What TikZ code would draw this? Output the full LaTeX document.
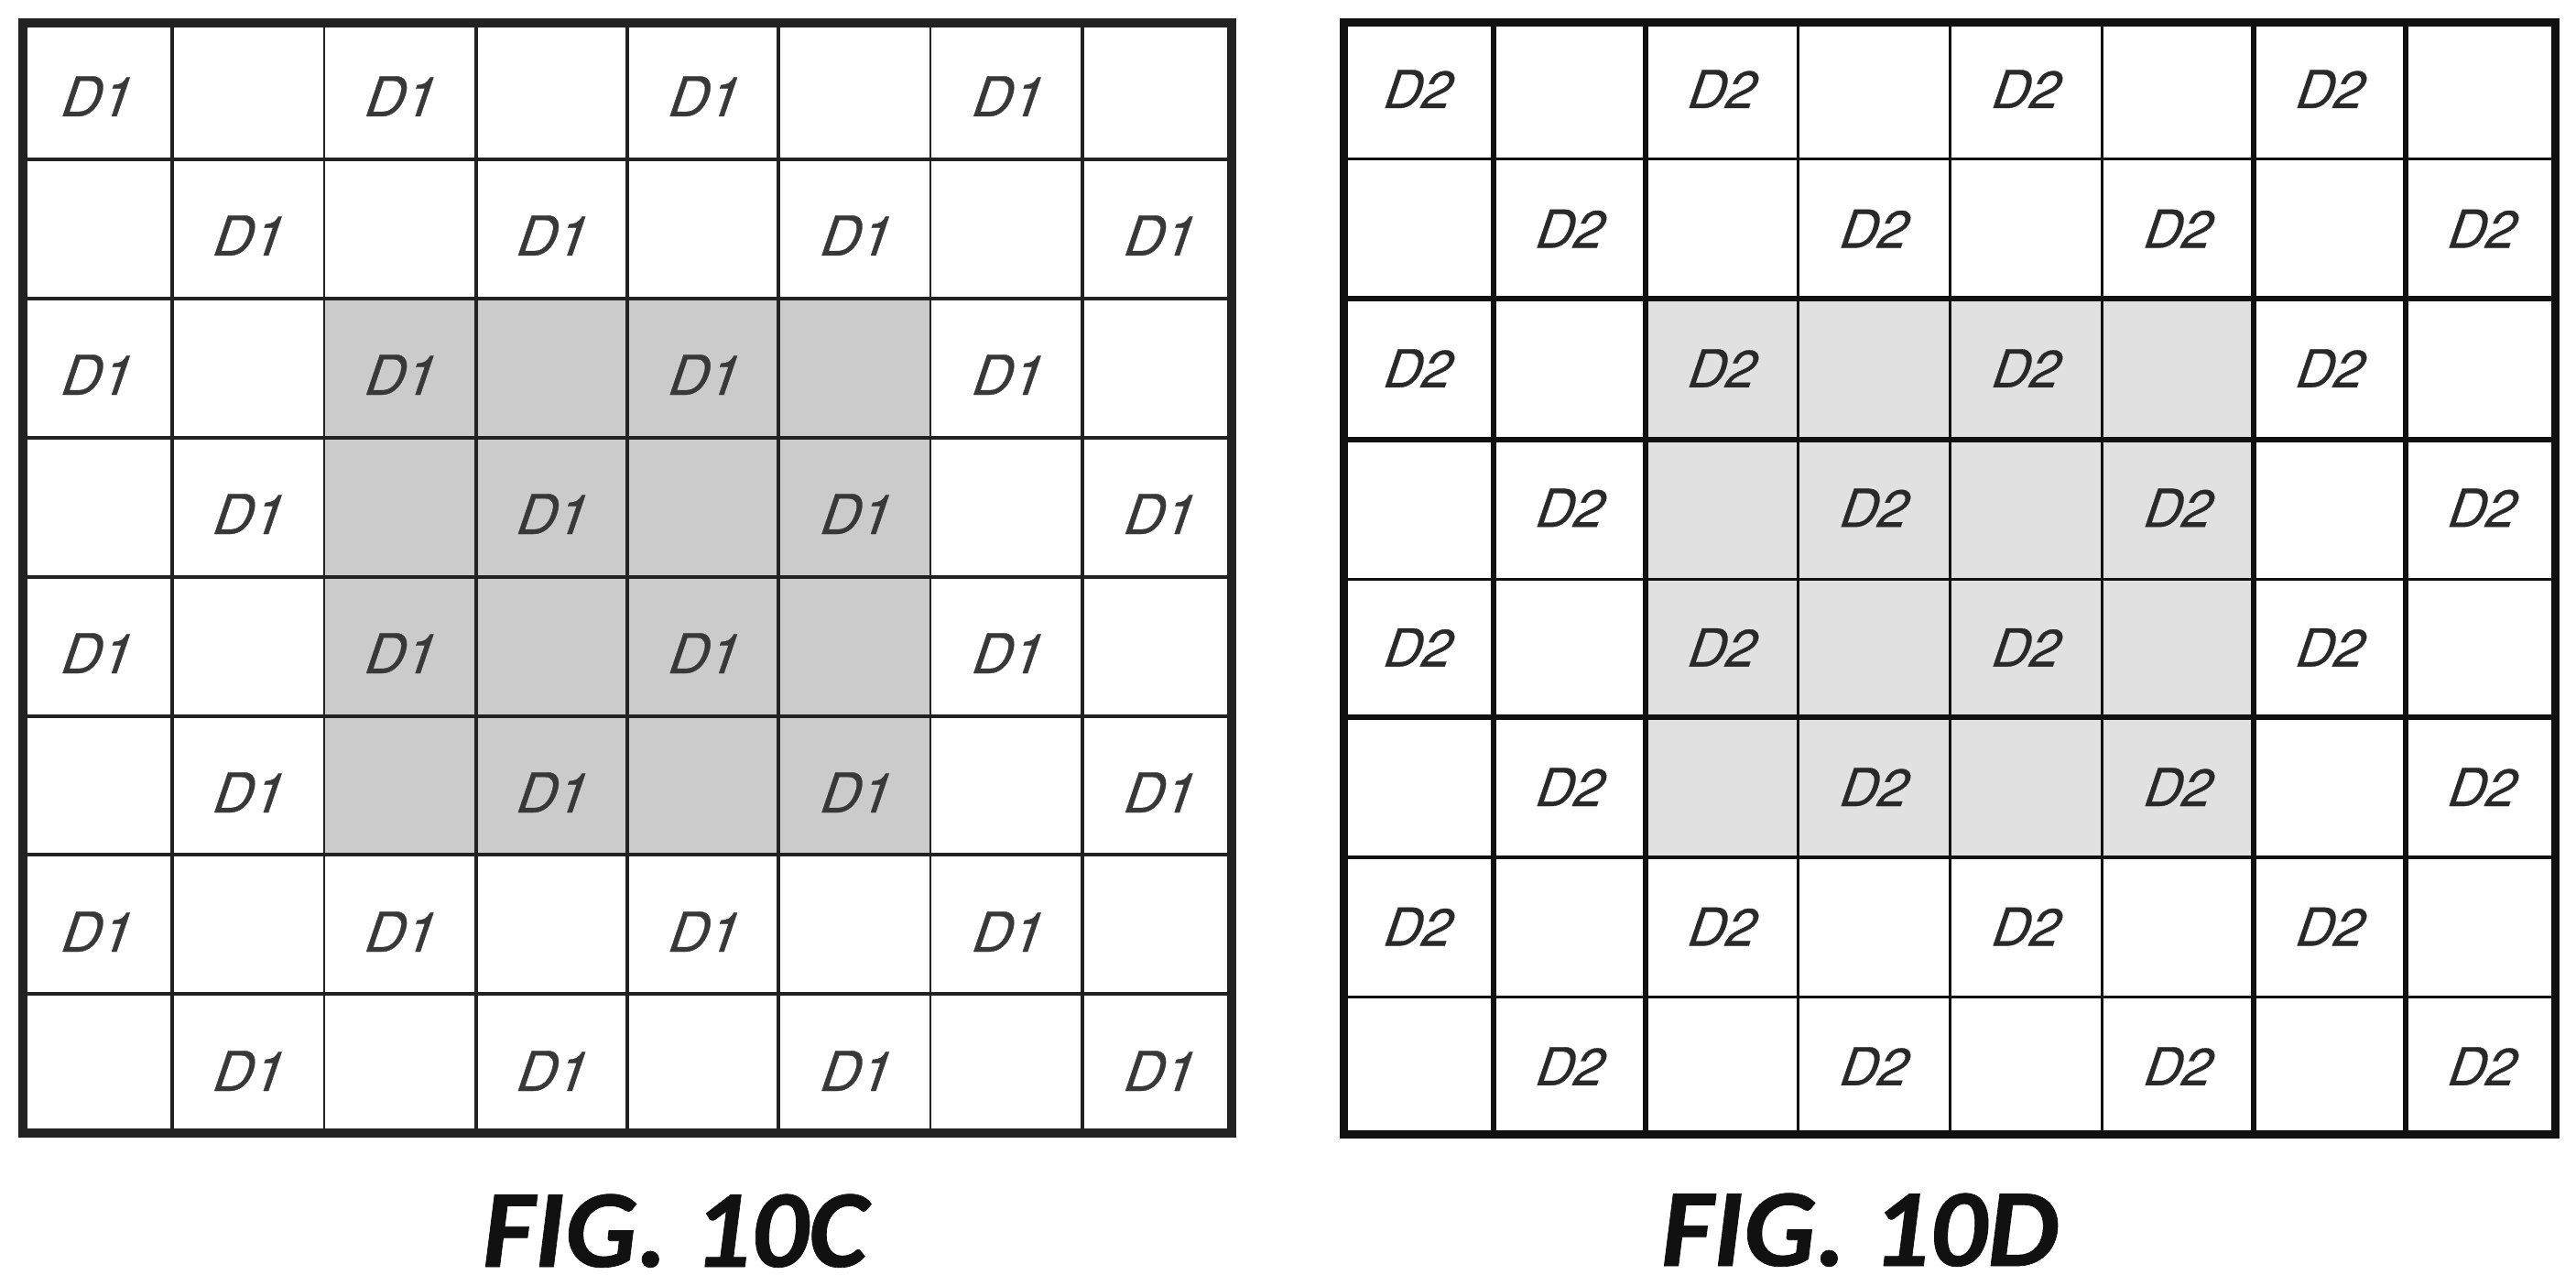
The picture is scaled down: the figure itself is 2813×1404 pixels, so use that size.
\documentclass[tikz,border=0pt]{standalone}
\usepackage{fontspec}
\newfontfamily\cellfont[FakeSlant=0.34,FakeBold=0.6]{TeX Gyre Heros}
\newfontfamily\figfont[FakeBold=0.6,FakeStretch=1.02,LetterSpace=0.3]{Carlito}
\definecolor{inkC}{HTML}{222222}
\definecolor{inkD}{HTML}{111111}
\definecolor{shadeC}{HTML}{CBCBCB}
\definecolor{shadeD}{HTML}{E1E1E1}
\tikzset{
  gridC/.style={draw=inkC},
  gridD/.style={draw=inkD},
  labelC/.style={anchor=base,inner sep=0pt,text=inkC!90,font=\cellfont\fontsize{60}{60}\selectfont},
  labelD/.style={anchor=base,inner sep=0pt,text=inkD!90,font=\cellfont\fontsize{57}{57}\selectfont},
  figlabel/.style={anchor=base,inner sep=0pt,text=inkD,font=\figfont\bfseries\itshape\fontsize{121}{121}\selectfont}
}
\begin{document}
\begin{tikzpicture}[x=1pt,y=-1pt]
\useasboundingbox (0,0) rectangle (2813,1404);
% FIG. 10C
\fill[shadeC] (354,326) rectangle (1016,933);
\foreach \p/\w in {188/4.5,354/2.5,520/4,685/4,850/4,1016/2.5,1182/4.5}
  \draw[gridC,line width=\w pt] (\p,25) -- (\p,1237);
\foreach \p/\w in {174/4,326/4,478/4,630/4,782/4,933/4,1085/4}
  \draw[gridC,line width=\w pt] (25,\p) -- (1345,\p);
\draw[gridC,line width=10pt] (25,25) rectangle (1345,1237);
% FIG. 10D
\fill[shadeD] (1797,326) rectangle (2461,935.5);
\foreach \p/\w in {1631/6,1797/6,1963/3,2129.5/3,2295/3,2461/5.5,2627/5.5}
  \draw[gridD,line width=\w pt] (\p,24.5) -- (\p,1238.5);
\foreach \p/\w in {174/3,326/6,480/5.5,632/3,783/5.5,935.5/4,1088/3}
  \draw[gridD,line width=\w pt] (1467,\p) -- (2790,\p);
\draw[gridD,line width=9pt] (1467,24.5) rectangle (2790,1238.5);
% cell labels
\foreach \r in {1,...,8}
  \foreach \c in {1,...,8} {
    \pgfmathtruncatemacro{\parity}{mod(\r+\c,2)}
    \ifnum\parity=0
      \pgfmathsetmacro{\xc}{105.5+165.8*(\c-1)-4}
      \pgfmathsetmacro{\yc}{127+152*(\r-1)}
      \node[labelC] (C-\r-\c) at (\xc,\yc) {D1};
      \pgfmathsetmacro{\xd}{1549+166*(\c-1)-5}
      \pgfmathsetmacro{\yd}{118+152.4*(\r-1)}
      \node[labelD] (D-\r-\c) at (\xd,\yd) {D2};
    \fi
  }
\node[figlabel] (figC) at (737,1383) {FIG. 10C};
\node[figlabel] (figD) at (2031,1382) {FIG. 10D};
\end{tikzpicture}
\end{document}
